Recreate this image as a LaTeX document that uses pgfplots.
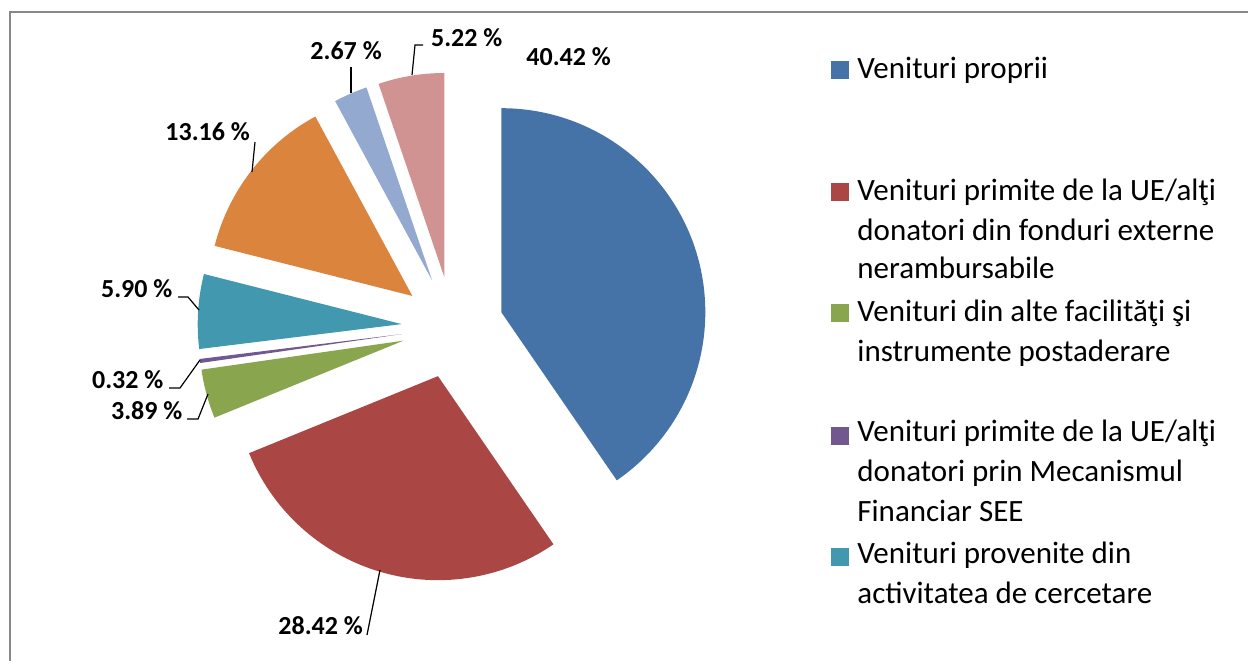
\documentclass[border=0pt]{standalone}
\usepackage{pgfplots}
\pgfplotsset{compat=1.18}
\usepackage{fontspec}
\setmainfont{Carlito}
\definecolor{cBlue}{HTML}{4572A7}
\definecolor{cRed}{HTML}{AA4643}
\definecolor{cGreen}{HTML}{89A54E}
\definecolor{cPurple}{HTML}{71588F}
\definecolor{cTeal}{HTML}{4198AF}
\definecolor{cOrange}{HTML}{DB843D}
\definecolor{cLBlue}{HTML}{93A9CF}
\definecolor{cPink}{HTML}{D19392}
\definecolor{cFrame}{HTML}{888888}
\newcommand\cum{0}
\begin{document}
\begin{tikzpicture}
\begin{axis}[x=0.5pt, y=0.5pt, y dir=reverse, xmin=0, xmax=1248, ymin=0, ymax=660,
  hide axis, scale only axis, clip=false]
% frame
\draw[cFrame, line width=1pt] (axis cs:10,720) -- (axis cs:10,12) -- (axis cs:1300,12);
% pie slices (percent values)
\foreach \v/\c in {40.42/cBlue, 28.42/cRed, 3.89/cGreen, 0.32/cPurple, 5.90/cTeal, 13.16/cOrange, 2.67/cLBlue, 5.22/cPink}{
  \pgfmathsetmacro\aS{90-3.6*\cum}
  \pgfmathsetmacro\aE{90-3.6*(\cum+\v)}
  \pgfmathsetmacro\aM{(\aS+\aE)/2}
  \pgfmathsetmacro\ax{452.6+51*cos(\aM)}
  \pgfmathsetmacro\ay{327.3-51*sin(\aM)}
  \edef\tmp{\noexpand\fill[\c] (axis cs:\ax,\ay) -- ++(canvas polar cs:angle=\aS,radius=102pt) arc[start angle=\aS,end angle=\aE,radius=102pt] -- cycle;}
  \tmp
  \pgfmathsetmacro\newcum{\cum+\v}
  \xdef\cum{\newcum}
}
% data labels
\begin{scope}[every node/.style={anchor=base west, inner sep=0pt, font=\bfseries\fontsize{13}{15}\selectfont}]
\node at (axis cs:526,65.7) {40.42 \%};
\node at (axis cs:310,59) {2.67 \%};
\node at (axis cs:430.7,46.7) {5.22 \%};
\node at (axis cs:165,140.7) {13.16 \%};
\node at (axis cs:100.7,297.3) {5.90 \%};
\node at (axis cs:91.7,388) {0.32 \%};
\node at (axis cs:110.7,419.3) {3.89 \%};
\node at (axis cs:278,634) {28.42 \%};
\end{scope}
\begin{scope}[line width=0.6pt, black]
\draw (axis cs:423,45) -- (axis cs:415,45) -- (axis cs:412,75);
\draw (axis cs:351,67) -- (axis cs:351,93);
\draw (axis cs:255,142) -- (axis cs:252,172);
\draw (axis cs:178,297) -- (axis cs:188,297) -- (axis cs:199,310);
\draw (axis cs:169,388) -- (axis cs:180,388) -- (axis cs:200,360);
\draw (axis cs:187,419) -- (axis cs:198,419) -- (axis cs:208,394);
\draw (axis cs:367,635) -- (axis cs:380,570);
\end{scope}
% legend
\fill[cBlue] (axis cs:831,61) rectangle (axis cs:849,79);
\fill[cRed] (axis cs:831,183) rectangle (axis cs:849,201);
\fill[cGreen] (axis cs:831,304) rectangle (axis cs:849,322);
\fill[cPurple] (axis cs:831,427) rectangle (axis cs:849,445);
\fill[cTeal] (axis cs:831,548) rectangle (axis cs:849,566);
\begin{scope}[every node/.style={anchor=base west, inner sep=0pt, font=\fontsize{15.5}{20}\selectfont}]
\node at (axis cs:857,78.3) {Venituri proprii};
\node at (axis cs:857,200) {Venituri primite de la UE/alţi};
\node at (axis cs:857,240) {donatori din fonduri externe};
\node at (axis cs:857,278) {nerambursabile};
\node at (axis cs:857,321.5) {Venituri din alte facilităţi şi};
\node at (axis cs:857,361.7) {instrumente postaderare};
\node at (axis cs:857,441.7) {Venituri primite de la UE/alţi};
\node at (axis cs:857,481.7) {donatori prin Mecanismul};
\node at (axis cs:857,521.7) {Financiar SEE};
\node at (axis cs:857,563) {Venituri provenite din};
\node at (axis cs:857,603) {activitatea de cercetare};
\end{scope}
\coordinate (BL) at (axis cs:0,660);
\coordinate (TR) at (axis cs:1248,0);
\end{axis}
\pgfresetboundingbox
\useasboundingbox (BL) rectangle (TR);
\end{tikzpicture}
\end{document}
